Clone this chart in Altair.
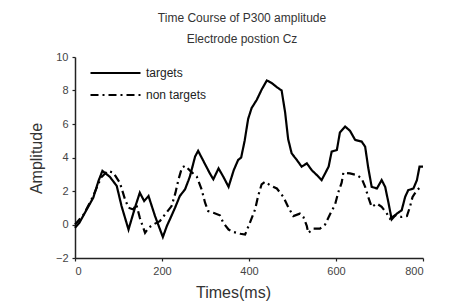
import altair as alt
import pandas as pd

# targets (solid)
t_ms = [0, 10, 27, 42, 54, 63, 80, 96, 107, 123, 139, 149, 159, 169, 184, 202, 211, 218, 230, 241,
        253, 264, 276, 283, 294, 310, 318, 330, 341, 353, 365, 375, 382, 390, 398, 406, 418, 429, 441,
        452, 464, 475, 483, 490, 498, 510, 521, 533, 544, 556, 567, 579, 583, 590, 602, 609, 621, 632,
        644, 659, 667, 674, 682, 694, 705, 713, 721, 728, 740, 751, 759, 766, 778, 786, 792, 800]
t_val = [-0.2, 0.1, 0.9, 1.6, 2.6, 3.2, 2.85, 2.3, 1.1, -0.3, 1.1, 1.9, 1.4, 1.7, 0.5, -0.75, -0.1, 0.3, 1.0, 1.7,
         2.1, 2.85, 4.05, 4.4, 3.85, 3.05, 2.7, 3.35, 2.85, 2.25, 3.25, 3.85, 4.0, 5.0, 6.3, 6.95, 7.45, 8.05, 8.6,
         8.45, 8.2, 8.0, 6.7, 5.1, 4.25, 3.85, 3.45, 3.65, 3.25, 2.95, 2.65, 3.25, 3.45, 4.35, 4.45, 5.5, 5.85, 5.6,
         5.05, 4.95, 4.65, 3.4, 2.25, 2.15, 2.65, 2.25, 1.25, 0.3, 0.65, 0.85, 1.65, 2.05, 2.15, 2.65, 3.45, 3.45]

# non targets (dash-dot)
n_ms = [0, 20, 40, 60, 75, 88, 103, 115, 123, 134, 141, 149, 161, 169, 180, 195, 207, 222, 231, 238,
        246, 253, 265, 280, 291, 299, 306, 318, 333, 341, 353, 365, 380, 391, 402, 414, 421, 429, 437,
        448, 464, 479, 490, 502, 517, 525, 533, 536, 548, 563, 575, 586, 598, 605, 613, 617, 632, 648,
        659, 667, 674, 682, 694, 705, 717, 724, 736, 751, 763, 770, 776, 786, 798]
n_val = [0.0, 0.6, 1.6, 2.8, 3.2, 3.1, 2.5, 1.5, 1.0, 0.9, 1.2, 0.4, -0.5, -0.2, 0.0, 0.2, 0.6, 1.1, 1.9, 2.7,
         3.4, 3.5, 3.2, 2.85, 2.1, 1.3, 0.8, 0.7, 0.55, 0.1, -0.3, -0.45, -0.55, -0.6, 0.1, 0.9, 1.7, 2.4, 2.55,
         2.35, 2.15, 1.65, 1.05, 0.5, 0.65, 0.45, -0.1, -0.5, -0.25, -0.25, 0.0, 0.6, 1.2, 1.9, 2.5, 3.1, 3.05, 2.95,
         2.75, 2.25, 1.65, 1.05, 1.25, 1.05, 0.65, 0.35, 0.55, 0.45, 0.5, 1.05, 1.65, 2.05, 2.3]

series = ["targets", "non targets"]
x_ticks = [0, 200, 400, 600, 800]
y_ticks = [-2, 0, 2, 4, 6, 8, 10]

df = pd.concat([
    pd.DataFrame({"t": t_ms, "amp": t_val, "cond": series[0]}),
    pd.DataFrame({"t": n_ms, "amp": n_val, "cond": series[1]}),
])

font = "Liberation Sans"

chart = alt.Chart(df).mark_line(color="black", strokeWidth=2.2).encode(
    x=alt.X("t:Q", scale=alt.Scale(domain=[0, 800], nice=False),
            axis=alt.Axis(title="Times(ms)", values=x_ticks, grid=False, tickSize=3,
                          labelPadding=4, titleX=158, titleY=34, titleBaseline="middle")),
    y=alt.Y("amp:Q", scale=alt.Scale(domain=[-2, 10], nice=False),
            axis=alt.Axis(title="Amplitude", values=y_ticks, grid=False, tickSize=3,
                          labelPadding=4, titleX=-39, titleY=101, titleBaseline="middle",
                          titleAngle=-90)),
    strokeDash=alt.StrokeDash("cond:N", scale=alt.Scale(domain=series, range=[[1, 0], [8, 4, 2, 4]]),
                              legend=alt.Legend(title=None, orient="none", legendX=14, legendY=9,
                                                symbolType="stroke", symbolSize=2500, clipHeight=14,
                                                symbolStrokeWidth=2.2, symbolStrokeColor="black",
                                                labelFontSize=12, labelFont=font, labelColor="#222",
                                                rowPadding=8, labelOffset=4)),
    order=alt.Order("t:Q"),
).properties(
    width=348, height=201,
    autosize=alt.AutoSizeParams(type="none"),
    padding={"left": 67, "top": 49, "right": 31, "bottom": 48},
    title=alt.Title(["Time Course of P300 amplitude", "Electrode postion Cz"], fontSize=12,
                    font=font, fontWeight="normal", color="#333", lineHeight=21, offset=5, dx=-7),
).configure_view(stroke=None).configure_axis(
    domainColor="#222", domainWidth=1.5, tickColor="#222", tickWidth=1.2,
    labelFont=font, labelFontSize=11, labelColor="#444",
    titleFont=font, titleFontSize=16, titleFontWeight="normal", titleColor="#333",
)

chart.save("out.html", embed_options={"renderer": "svg", "actions": False})
